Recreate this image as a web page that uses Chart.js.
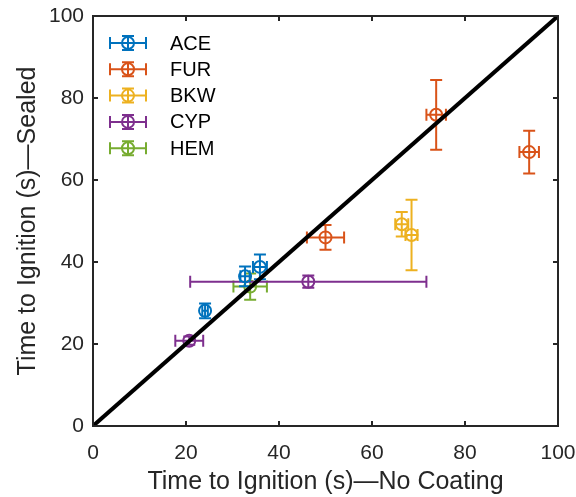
<!DOCTYPE html>
<html>
<head>
<meta charset="utf-8">
<script src="https://cdn.jsdelivr.net/npm/chart.js@4.4.0/dist/chart.umd.min.js"></script>
<style>
  html, body { margin: 0; padding: 0; background: #fff; }
  #wrap { width: 576px; height: 497px; }
</style>
</head>
<body>
<div id="wrap"><canvas id="chart"></canvas></div>
<script>
// series (seconds)
const seriesNames = ['ACE', 'FUR', 'BKW', 'CYP', 'HEM'];
const seriesColors = ['#0072BD', '#D95319', '#EDB120', '#7E2F8E', '#77AC30'];

const aceX = [24.1, 32.7, 35.9];
const aceY = [28.1, 36.5, 38.8];
const aceXErr = [0.6, 1.0, 1.5];
const aceYErr = [1.8, 2.4, 3.0];

const furX = [50.0, 73.8, 93.8];
const furY = [46.0, 75.9, 66.8];
const furXErr = [4.0, 2.1, 2.1];
const furYErr = [3.0, 8.5, 5.2];

const bkwX = [66.4, 68.5];
const bkwY = [49.2, 46.6];
const bkwXErr = [1.4, 1.3];
const bkwYErr = [3.0, 8.6];

const cypX = [20.7, 46.3];
const cypY = [20.8, 35.2];
const cypXErr = [3.0, 25.4];
const cypYErr = [1.0, 1.5];

const hemX = [33.8];
const hemY = [34.0];
const hemXErr = [3.6];
const hemYErr = [3.2];

const xTitle = 'Time to Ignition (s)—No Coating';
const yTitle = 'Time to Ignition (s)—Sealed';
const tickValues = [0, 20, 40, 60, 80, 100];
const diagonalX = [0, 100];

const allX = [aceX, furX, bkwX, cypX, hemX];
const allY = [aceY, furY, bkwY, cypY, hemY];
const allXErr = [aceXErr, furXErr, bkwXErr, cypXErr, hemXErr];
const allYErr = [aceYErr, furYErr, bkwYErr, cypYErr, hemYErr];

const axisColor = '#262626';
const fontFamily = '"Liberation Sans", Arial, sans-serif';

function drawErrorBar(ctx, cx, cy, x1, x2, y1, y2, cap) {
    ctx.beginPath();
    ctx.moveTo(x1, cy); ctx.lineTo(x2, cy);
    ctx.moveTo(x1, cy - cap); ctx.lineTo(x1, cy + cap);
    ctx.moveTo(x2, cy - cap); ctx.lineTo(x2, cy + cap);
    ctx.moveTo(cx, y1); ctx.lineTo(cx, y2);
    ctx.moveTo(cx - cap, y1); ctx.lineTo(cx + cap, y1);
    ctx.moveTo(cx - cap, y2); ctx.lineTo(cx + cap, y2);
    ctx.stroke();
}

// error bars drawn under each dataset's circles
const errorBarPlugin = {
    id: 'errorBars',
    beforeDatasetDraw(chart, args) {
        const ds = chart.data.datasets[args.index];
        if (ds.xErr === undefined) return;
        const ctx = chart.ctx;
        const xs = chart.scales.x, ys = chart.scales.y;
        ctx.save();
        ctx.strokeStyle = ds.borderColor;
        ctx.lineWidth = 2;
        ds.data.forEach((p, i) => {
            drawErrorBar(ctx,
                xs.getPixelForValue(p.x), ys.getPixelForValue(p.y),
                xs.getPixelForValue(p.x - ds.xErr[i]), xs.getPixelForValue(p.x + ds.xErr[i]),
                ys.getPixelForValue(p.y + ds.yErr[i]), ys.getPixelForValue(p.y - ds.yErr[i]),
                6);
        });
        ctx.restore();
    }
};

// box, inward ticks and legend
const framePlugin = {
    id: 'frame',
    afterDraw(chart) {
        const ctx = chart.ctx;
        const a = chart.chartArea;
        const xs = chart.scales.x, ys = chart.scales.y;
        ctx.save();
        ctx.strokeStyle = axisColor;
        ctx.lineWidth = 2;
        ctx.strokeRect(a.left, a.top, a.right - a.left, a.bottom - a.top);
        ctx.beginPath();
        tickValues.forEach(v => {
            const px = xs.getPixelForValue(v);
            ctx.moveTo(px, a.bottom); ctx.lineTo(px, a.bottom - 5);
            ctx.moveTo(px, a.top); ctx.lineTo(px, a.top + 5);
            const py = ys.getPixelForValue(v);
            ctx.moveTo(a.left, py); ctx.lineTo(a.left + 5, py);
            ctx.moveTo(a.right, py); ctx.lineTo(a.right - 5, py);
        });
        ctx.stroke();

        // legend
        ctx.font = '20px ' + fontFamily;
        ctx.textBaseline = 'middle';
        seriesNames.forEach((name, i) => {
            const cy = a.top + 27 + i * 26.3;
            const cx = a.left + 35;
            ctx.strokeStyle = seriesColors[i];
            ctx.lineWidth = 2;
            drawErrorBar(ctx, cx, cy, cx - 18, cx + 18, cy - 7, cy + 7, 6);
            ctx.beginPath();
            ctx.arc(cx, cy, 6, 0, Math.PI * 2);
            ctx.stroke();
            ctx.fillStyle = '#000';
            ctx.fillText(name, a.left + 77, cy + 1);
        });
        ctx.restore();
    }
};

const datasets = seriesNames.map((name, i) => ({
    label: name,
    data: allX[i].map((x, j) => ({ x: x, y: allY[i][j] })),
    xErr: allXErr[i],
    yErr: allYErr[i],
    borderColor: seriesColors[i],
    backgroundColor: 'rgba(0,0,0,0)',
    pointRadius: 6,
    pointBorderWidth: 2,
    showLine: false,
    order: 1
}));

datasets.push({
    label: 'y = x',
    data: diagonalX.map(v => ({ x: v, y: v })),
    borderColor: '#000',
    borderWidth: 4,
    pointRadius: 0,
    showLine: true,
    order: 0
});

const ctx = document.getElementById('chart').getContext('2d');
new Chart(ctx, {
    type: 'scatter',
    data: { datasets: datasets },
    plugins: [errorBarPlugin, framePlugin],
    options: {
        responsive: true,
        maintainAspectRatio: false,
        animation: false,
        layout: { padding: { top: 16, right: 18, left: 0, bottom: 0 } },
        plugins: {
            legend: { display: false },
            tooltip: { enabled: false }
        },
        scales: {
            x: {
                type: 'linear',
                min: 0,
                max: 100,
                afterBuildTicks: scale => { scale.ticks = tickValues.map(v => ({ value: v })); },
                afterFit: scale => {
                    scale.height = 71;
                    scale.paddingLeft = 0;
                    scale.paddingRight = 0;
                },
                grid: { display: false, drawTicks: false },
                border: { display: false },
                ticks: {
                    color: axisColor,
                    padding: 15,
                    font: { family: fontFamily, size: 21 }
                },
                title: {
                    display: true,
                    text: xTitle,
                    color: axisColor,
                    padding: { top: 3, bottom: 0 },
                    font: { family: fontFamily, size: 25 }
                }
            },
            y: {
                type: 'linear',
                min: 0,
                max: 100,
                afterBuildTicks: scale => { scale.ticks = tickValues.map(v => ({ value: v })); },
                afterFit: scale => {
                    scale.width = 93;
                    scale.paddingTop = 0;
                    scale.paddingBottom = 0;
                },
                grid: { display: false, drawTicks: false },
                border: { display: false },
                ticks: {
                    color: axisColor,
                    padding: 9,
                    font: { family: fontFamily, size: 21 }
                },
                title: {
                    display: true,
                    text: yTitle,
                    color: axisColor,
                    padding: { top: 13, bottom: 4 },
                    font: { family: fontFamily, size: 25 }
                }
            }
        }
    }
});
</script>
</body>
</html>
